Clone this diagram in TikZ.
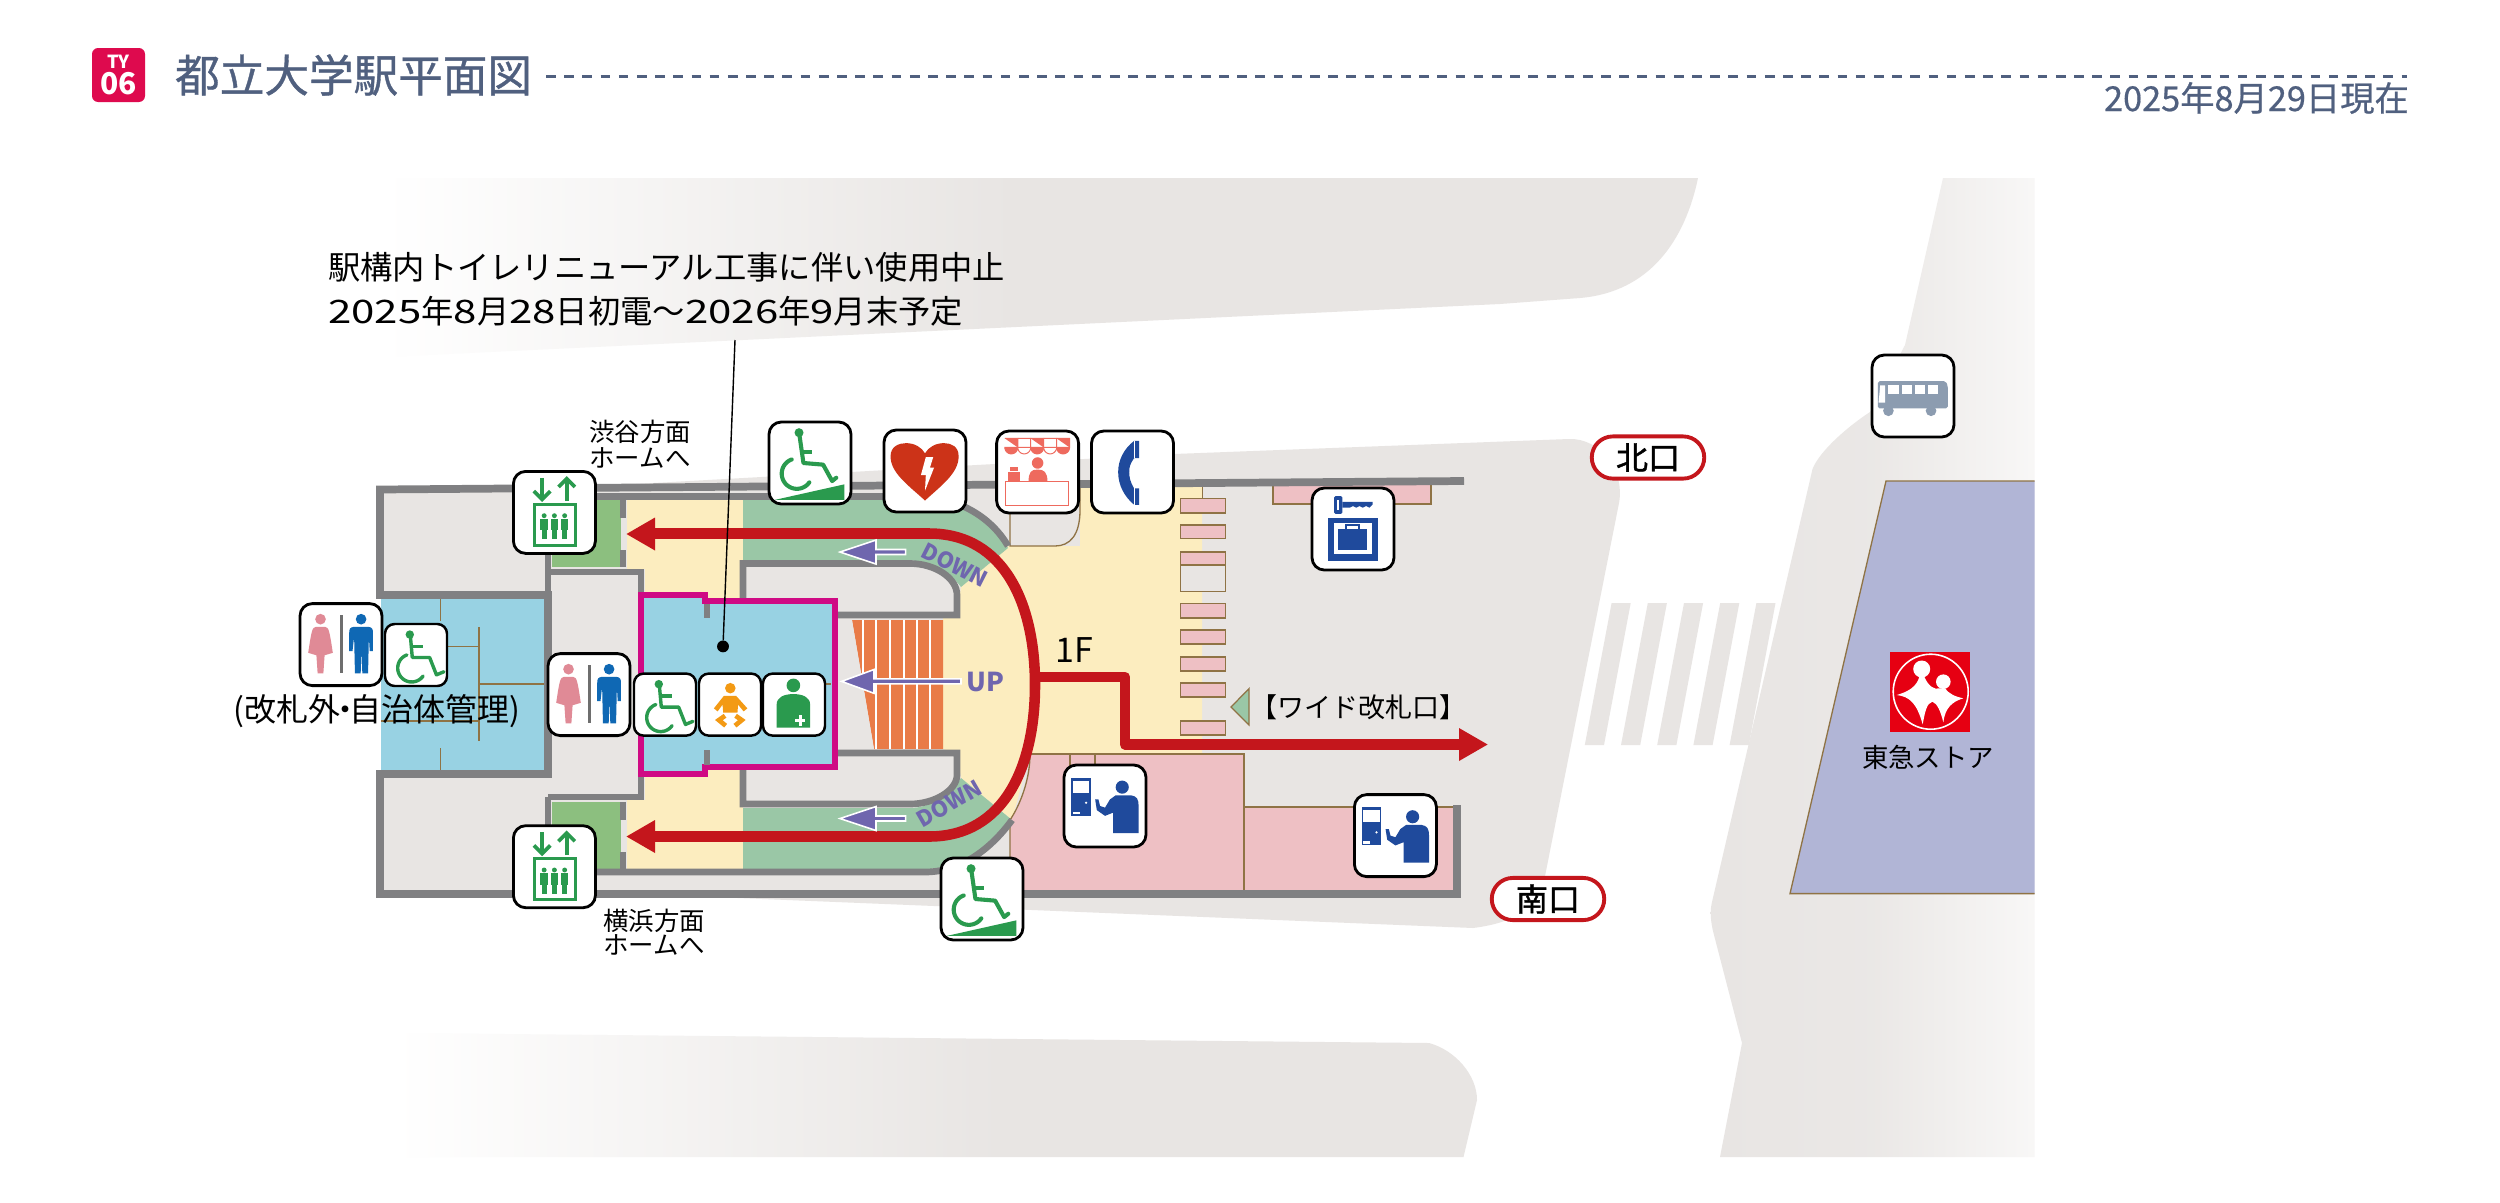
\documentclass[tikz,border=0pt]{standalone}
\usepackage{fontspec}
\usepackage{graphicx}
\setmainfont{Noto Sans CJK JP}
\newcommand\pxf[1]{\fontsize{\fpeval{#1*1.138}pt}{\fpeval{#1*1.3}pt}\selectfont}
\newcommand\dg[1]{\scalebox{1.3}[1.0]{#1}}
\definecolor{ground}{HTML}{E8E5E3}
\definecolor{wallc}{HTML}{808082}
\definecolor{creamc}{HTML}{FCEDBF}
\definecolor{bandc}{HTML}{9AC7A6}
\definecolor{evc}{HTML}{8CBF7F}
\definecolor{bluec}{HTML}{98D2E3}
\definecolor{magc}{HTML}{CF0A84}
\definecolor{redc}{HTML}{C4161C}
\definecolor{pinkc}{HTML}{EEC0C4}
\definecolor{brownc}{HTML}{8F7345}
\definecolor{orangec}{HTML}{E97B47}
\definecolor{purplec}{HTML}{6F66AE}
\definecolor{lavc}{HTML}{B1B5D6}
\definecolor{titlec}{HTML}{50607F}
\definecolor{icong}{HTML}{2A9A4E}
\definecolor{iconb}{HTML}{1F4A9C}
\definecolor{manb}{HTML}{0F68B4}
\definecolor{womanp}{HTML}{E08A96}
\definecolor{barg}{HTML}{6E6E6E}
\definecolor{aedr}{HTML}{CC3318}
\definecolor{shopr}{HTML}{EE6A5E}
\definecolor{babyo}{HTML}{F39A14}
\definecolor{busg}{HTML}{8C9CB0}
\definecolor{logor}{HTML}{E60012}
\pgfdeclarehorizontalshading{fadetop}{100bp}{color(0bp)=(white);color(25bp)=(white);color(49bp)=(ground);color(100bp)=(ground)}
\pgfdeclarehorizontalshading{fadebot}{100bp}{color(0bp)=(white);color(25bp)=(white);color(53bp)=(ground);color(100bp)=(ground)}
\pgfdeclarehorizontalshading{faderight}{100bp}{color(0bp)=(ground);color(25bp)=(ground);color(50bp)=(ground!90!white);color(75bp)=(ground!30!white);color(100bp)=(ground!30!white)}
\tikzset{
  wall/.style={draw=wallc,line width=8.8pt,line join=miter},
  wallthin/.style={draw=wallc,line width=7.6pt},
  thinb/.style={draw=brownc,line width=1.5pt},
  gate/.style={fill=pinkc,draw=brownc,line width=1.6pt},
  route/.style={draw=redc,line width=12pt},
  iconframe/.style={draw=black,fill=white,line width=3.2pt,rounded corners=14pt},
  iconframesmall/.style={draw=black,fill=white,line width=2.8pt,rounded corners=11pt},
  lbl/.style={inner sep=0pt,text=black},
  pill/.style={draw=redc,fill=white,line width=4.4pt,rounded corners=24pt,minimum height=48pt,minimum width=128pt,inner sep=0pt,text=black},
  parrow/.style={fill=purplec,draw=white,line width=1.8pt,line join=miter},
  updown/.style={inner sep=0pt,text=purplec,font=\pxf{22}\bfseries}
}
\newcommand\icon[6][iconframe]{%
 \begin{scope}[shift={(#3,#4)},x={#5*0.04cm},y={-#5*0.04cm}]
 \pgfmathsetmacro\iconu{#5*1.138}
 \draw[#1] (0,0) rectangle (1,1);
 \coordinate (#2) at (.5,.5);
 #6
 \end{scope}}
\newcommand\chair{%
 \fill[icong] (.40,.17) circle (.068);
 \draw[icong,line width=.055*\iconu pt,line cap=round,line join=round] (.41,.2)--(.44,.54)--(.72,.54)--(.83,.82)--(.95,.77);
 \draw[icong,line width=.055*\iconu pt] (.43,.36)--(.62,.36);
 \draw[icong,line width=.055*\iconu pt,line cap=round] plot[domain=35:250,samples=30,smooth] ({.43+.225*cos(\x)},{.71+.225*sin(\x)});}
\newcommand\ramp{%
 \fill[icong] (.366,.13) circle (.055);
 \draw[icong,line width=.05*\iconu pt,line cap=round,line join=round] (.37,.15)--(.42,.50)--(.66,.52)--(.77,.72)--(.82,.68);
 \draw[icong,line width=.05*\iconu pt] (.39,.37)--(.53,.37);
 \draw[icong,line width=.05*\iconu pt,line cap=round] plot[domain=35:250,samples=30,smooth] ({.34+.185*cos(\x)},{.63+.185*sin(\x)});
 \fill[icong] (.07,.95)--(.92,.76)--(.92,.95)--cycle;}
\newcommand\wc{%
 \fill[womanp] (.25,.19) circle (.065);
 \fill[womanp] (.19,.285)--(.31,.285) .. controls (.35,.29) and (.36,.33) .. (.40,.60)--(.30,.63)--(.285,.85)--(.215,.85)--(.2,.63)--(.10,.60) .. controls (.14,.33) and (.15,.29) .. (.19,.285)--cycle;
 \fill[barg] (.485,.14) rectangle (.525,.85);
 \fill[manb] (.745,.19) circle (.065);
 \fill[manb] (.65,.285)--(.84,.285) .. controls (.88,.29) and (.89,.31) .. (.89,.36)--(.89,.58)--(.85,.58)--(.84,.40)--(.83,.85)--(.76,.85)--(.75,.56)--(.74,.85)--(.67,.85)--(.66,.40)--(.64,.58)--(.60,.58)--(.60,.36) .. controls (.60,.31) and (.61,.29) .. (.65,.285)--cycle;}
\newcommand\evperson[1]{%
 \fill[icong] (#1,.54) circle (.03);
 \fill[icong] (#1-.045,.58) rectangle (#1+.045,.72);
 \fill[icong] (#1-.03,.72) rectangle (#1+.03,.83);}
\newcommand\elev{%
 \draw[icong,line width=.045*\iconu pt] (.35,.08)--(.35,.34);
 \draw[icong,line width=.045*\iconu pt] (.25,.24)--(.35,.34)--(.45,.24);
 \draw[icong,line width=.045*\iconu pt] (.65,.36)--(.65,.09);
 \draw[icong,line width=.045*\iconu pt] (.55,.19)--(.65,.09)--(.75,.19);
 \draw[icong,line width=.035*\iconu pt] (.255,.40) rectangle (.76,.90);
 \evperson{.375}\evperson{.5}\evperson{.625}}
\newcommand\aed{%
 \fill[aedr] (.5,.86) .. controls (.28,.66) and (.08,.52) .. (.08,.32) .. controls (.08,.2) and (.18,.16) .. (.27,.16) .. controls (.37,.16) and (.46,.21) .. (.5,.285) .. controls (.54,.21) and (.63,.16) .. (.73,.16) .. controls (.82,.16) and (.91,.2) .. (.91,.32) .. controls (.91,.52) and (.72,.66) .. (.5,.86)--cycle;
 \fill[white] (.51,.33)--(.60,.33)--(.56,.46)--(.61,.46)--(.50,.74)--(.51,.55)--(.45,.55)--cycle;}
\newcommand\awn[2]{%
 \filldraw[fill=#2,draw=shopr,line width=.012*\iconu pt] (#1,.09)--(#1+.158,.09)--(#1+.158,.2) plot[domain=0:180,samples=14] ({#1+.079+.079*cos(\x)},{.2+.079*sin(\x)})--cycle;}
\newcommand\shop{%
 \awn{.1}{shopr}\awn{.258}{white}\awn{.416}{shopr}\awn{.574}{white}\awn{.732}{shopr}
 \fill[shopr] (.5,.39) circle (.07);
 \fill[shopr] (.39,.62) .. controls (.39,.5) and (.42,.47) .. (.5,.47) .. controls (.58,.47) and (.62,.5) .. (.62,.62)--cycle;
 \fill[shopr] (.135,.5) rectangle (.28,.62);
 \fill[shopr] (.16,.44) rectangle (.26,.49);
 \draw[shopr,line width=.012*\iconu pt] (.105,.62) rectangle (.88,.91);}
\newcommand\phoneg{%
 \fill[iconb] (.58,.12)--(.52,.12) .. controls (.39,.22) and (.325,.36) .. (.325,.5) .. controls (.325,.66) and (.40,.80) .. (.52,.90)--(.58,.90)--(.58,.70)--(.52,.70) .. controls (.47,.62) and (.46,.56) .. (.46,.5) .. controls (.46,.44) and (.47,.40) .. (.52,.33)--(.58,.33)--cycle;
 \draw[white,line width=.012*\iconu pt] (.52,.12)--(.52,.33) (.52,.70)--(.52,.90);}
\newcommand\ticket{%
 \fill[iconb] (.09,.155) rectangle (.33,.62);
 \fill[white] (.105,.19) rectangle (.31,.34);
 \fill[white] (.105,.57) rectangle (.19,.60);
 \fill[white] (.27,.46) circle (.015);
 \fill[iconb] (.71,.27) circle (.08);
 \fill[iconb] (.63,.37)--(.82,.37) .. controls (.89,.38) and (.91,.42) .. (.91,.50)--(.91,.83)--(.60,.83)--(.60,.58)--(.50,.62)--(.40,.55)--(.38,.42)--(.42,.42)--(.44,.50)--(.50,.52)--(.56,.42)--cycle;}
\newcommand\locker{%
 \fill[iconb,rounded corners=1.5pt] (.27,.10) rectangle (.37,.315);
 \fill[white] (.30,.15) rectangle (.33,.27);
 \fill[iconb] (.37,.17)--(.74,.17)--(.74,.20)--(.70,.24)--(.66,.22)--(.62,.24)--(.58,.22)--(.54,.24)--(.50,.22)--(.46,.24)--(.37,.24)--cycle;
 \fill[iconb] (.2,.37) rectangle (.8,.89);
 \fill[white] (.265,.43) rectangle (.735,.80);
 \fill[iconb] (.32,.50) rectangle (.67,.75);
 \draw[iconb,line width=.025*\iconu pt] (.42,.50)--(.42,.45)--(.57,.45)--(.57,.50);}
\newcommand\baby{%
 \fill[babyo] (.505,.235) circle (.085);
 \fill[babyo] (.24,.56)--(.40,.36)--(.60,.36)--(.78,.56)--(.72,.61)--(.63,.50)--(.62,.63)--(.39,.63)--(.38,.50)--(.30,.61)--cycle;
 \draw[babyo,line width=.075*\iconu pt] (.42,.68)--(.32,.75)--(.43,.84);
 \draw[babyo,line width=.075*\iconu pt] (.59,.68)--(.69,.75)--(.58,.84);}
\newcommand\nurse{%
 \fill[icong] (.49,.19) circle (.11);
 \fill[icong] (.22,.87)--(.22,.50) .. controls (.22,.38) and (.34,.33) .. (.49,.33) .. controls (.64,.33) and (.76,.38) .. (.76,.50)--(.76,.87)--cycle;
 \fill[white] (.575,.66) rectangle (.625,.84);
 \fill[white] (.515,.725) rectangle (.685,.775);}
\newcommand\busg{%
 \fill[busg,rounded corners=2pt] (.07,.32)--(.90,.32)--(.925,.38)--(.925,.65)--(.07,.65)--cycle;
 \foreach \a in {.20,.36,.52,.68}{\fill[white] (\a,.37) rectangle (\a+.13,.47);}
 \fill[white] (.10,.37)--(.16,.37)--(.16,.58)--(.08,.58)--cycle;
 \fill[busg] (.20,.68) circle (.065);
 \fill[busg] (.72,.68) circle (.065);}
\begin{document}
\begin{tikzpicture}[x=0.04cm,y=-0.04cm]
\useasboundingbox (0,0) rectangle (2500,1202);
\fill[white] (0,0) rectangle (2500,1202);
% header
\fill[fill={rgb,255:red,222;green,10;blue,78},rounded corners=7pt] (92,48) rectangle (145,102);
\node[lbl,text=white,font=\pxf{18}\bfseries] (badgetop) at (118.5,62) {TY};
\node[lbl,text=white,font=\pxf{30}\bfseries] (badgenum) at (118.5,84) {06};
\node[lbl,text=titlec,font=\pxf{44.6}\addfontfeature{FakeBold=0.8},anchor=west] (title) at (175,75) {都立大学駅平面図};
\coordinate (dashL) at (546,76.5);
\coordinate (dashR) at (2407,76.5);
\draw[titlec,line width=2.8pt,dash pattern=on 11pt off 9.7pt] (dashL)--(dashR);
\node[lbl,text=titlec,font=\pxf{34.3}\addfontfeature{FakeBold=0.6},anchor=east] (date) at (2409,98) {2025年8月29日現在};
% ground
\shade[shading=fadetop] (383,178)--(1698,178) .. controls (1685,240) and (1650,292) .. (1580,298)--(1500,304)--(385,357)--cycle;
\shade[shading=fadebot] (404,1033)--(1429,1043) .. controls (1455,1050) and (1477,1075) .. (1477,1100)--(1463.5,1157)--(395,1157)--cycle;
\shade[shading=faderight] (1943,178)--(2034.5,178)--(2034.5,1157)--(1720,1157)--(1742,1043)--(1714,935) .. controls (1710,920) and (1710,910) .. (1712,902)--(1812.5,469) .. controls (1820,450) and (1850,425) .. (1870,412)--(1905,345)--cycle;
\fill[ground] (600,486)--(1174,454)--(1569,439) .. controls (1600,438) and (1625,470) .. (1619,503)--(1546,871) .. controls (1540,905) and (1520,922) .. (1473,928)--(640,894)--cycle;
\fill[ground] (380,489)--(700,484)--(700,894)--(380,894)--(380,774)--(548,774)--(548,595)--(380,595)--cycle;
% crosswalk
\foreach \i in {0,...,4}{\fill[ground] ({1611.6+36.2*\i},603)--({1630.7+36.2*\i},603)--({1604+36.2*\i},745)--({1584.8+36.2*\i},745)--cycle;}
% store
\fill[lavc] (2034.5,481)--(1886,481)--(1790,893.6)--(2034.5,893.6)--cycle;
\draw[thinb] (2034.5,481)--(1886,481)--(1790,893.6)--(2034.5,893.6);
\fill[logor] (1890,652) rectangle (1970,732);
\draw[white,line width=1.8pt] (1930.7,691.7) circle (37.5);
\fill[white] (1921.7,669) circle (8.5);
\fill[white] (1943.3,681.7) circle (7.3);
\begin{scope}[shift={(1880,645)},x=0.04cm/3,y=-0.04cm/3]
\fill[white] (118,95) .. controls (110,125) and (85,140) .. (50,150) .. controls (90,155) and (110,175) .. (128,238) .. controls (135,200) and (140,175) .. (157,170) .. controls (172,175) and (182,200) .. (190,232) .. controls (195,190) and (215,170) .. (250,160) .. controls (225,155) and (205,145) .. (195,130)--(178,130) .. controls (165,135) and (145,125) .. (133,95)--cycle;
\end{scope}
\node[lbl,font=\pxf{26.4}] (store) at (1928,757) {東急ストア};
% floors
\fill[ground] (380,595) rectangle (548,490);
\fill[creamc] (627,500) rectangle (743,569);
\fill[creamc] (645,500) rectangle (743,869);
\fill[creamc] (627,800) rectangle (743,869);
\fill[creamc] (1008,546)--(961,587)--(957,615)--(943,615)--(943,749)--(957,753)--(961,778)--(1012,820)--(1030,753.5)--(1202,753.5)--(1202,486)--(1080,486)--(1080,546)--cycle;
\fill[ground] (743,566) rectangle (957,615);
\fill[ground] (743,753) rectangle (957,804);
% green bands
\fill[bandc] (743,500)--(917,500) .. controls (955,500) and (990,518) .. (1008,548)--(961,587) .. controls (950,572) and (930,563) .. (910,560)--(743,560)--cycle;
\fill[bandc] (743,869)--(925,869) .. controls (960,869) and (990,848) .. (1012,820)--(961,778) .. controls (950,795) and (930,808) .. (910,808)--(743,808)--cycle;
\fill[evc] (552,500) rectangle (621,567);
\fill[evc] (552,802) rectangle (621,869);
% stairs
\fill[ground] (838,615) rectangle (943,753);
\fill[orangec] (852,620)--(943,620)--(943,749)--(874,749)--cycle;
\foreach \a in {863,876,890,904,917,930}{\fill[white] (\a-.9,620) rectangle (\a+.9,749);}
\fill[ground] (852,620)--(874,749)--(852,749)--cycle;
% left blue room
\fill[bluec] (381,598) rectangle (546,771);
\draw[thinb] (440.6,598)--(440.6,621) (440.6,748)--(440.6,771);
\draw[thinb] (479,627)--(479,741);
\draw[thinb] (447,646.4)--(479,646.4);
\draw[thinb] (479,684)--(544,684);
\draw[thinb] (381,721)--(479,721);
% pink rooms
\fill[pinkc] (1030,754)--(1244,754)--(1244,807)--(1457,807)--(1457,891)--(1010,891)--(1010,820) .. controls (1020,805) and (1030,780) .. (1030,754)--cycle;
\draw[thinb] (1030,754)--(1244,754)--(1244,891);
\draw[thinb] (1244,807)--(1457,807);
\draw[thinb] (1010,891)--(1010,820) .. controls (1020,805) and (1030,780) .. (1030,754);
\fill[gate] (1070,754) rectangle (1095,768);
% kiosk
\fill[ground] (1010,500) rectangle (1080,546);
\draw[thinb] (1010,510)--(1010,546)--(1055,546) .. controls (1070,546) and (1080,535) .. (1080,510)--(1080,486);
% gates
\draw[thinb] (1202.5,485)--(1202.5,498);
\foreach \ya/\yb in {498.6/513,525/538.6,552/565,603.6/618,630/644,657/671,683/697,721/735}{\fill[gate] (1180.4,\ya) rectangle (1225.4,\yb);}
\fill[ground,draw=brownc,line width=1.6pt] (1180.4,565) rectangle (1225.4,591.4);
\fill[gate] (1273,484) rectangle (1431,504);
% walls
\draw[wall] (1464,481)--(380,489.5)--(380,595)--(548,595)--(548,774)--(380,774)--(380,894)--(1457,894)--(1457,805);
\draw[wallthin] (548,596)--(548,572)--(641,572)--(641,596);
\draw[wallthin] (548,497)--(548,572);
\draw[wallthin] (548,797)--(641,797)--(641,772);
\draw[wallthin] (548,872)--(548,797);
\draw[wallthin] (545,496.5)--(917,496.5) .. controls (955,496.5) and (990,515) .. (1008,546);
\draw[wallthin] (545,872)--(925,872) .. controls (960,872) and (990,850) .. (1012,820);
\draw[wallthin] (743,600)--(743,563.5)--(910,563.5) .. controls (935,563.5) and (957,578) .. (957,595)--(957,615)--(838,615);
\draw[wallthin] (743,770)--(743,804)--(910,804) .. controls (935,804) and (957,790) .. (957,775)--(957,753)--(838,753);
\draw[wallthin] (623,500)--(623,518) (623,550)--(623,567) (623,802)--(623,820) (623,852)--(623,869);
% central toilet
\draw[draw=magc,fill=bluec,line width=7.5pt,line join=miter] (641,595)--(705,595)--(705,601)--(835,601)--(835,767)--(705,767)--(705,774)--(641,774)--cycle;
\draw[wallthin] (707,604)--(707,618) (707,750)--(707,765);
\draw[thinb] (825,684)--(831,684);
% routes
\draw[route] (650,533.5)--(929,533.5) .. controls (1005,533.5) and (1035,605) .. (1035,685) .. controls (1035,765) and (1005,836.5) .. (929,836.5)--(650,836.5);
\draw[route,line join=round] (1035,677)--(1125,677)--(1125,744.5)--(1465,744.5);
\fill[redc] (626.5,534)--(655,517.5)--(655,550.5)--cycle;
\fill[redc] (626.5,836.5)--(655,820)--(655,853)--cycle;
\fill[redc] (1487.6,744.5)--(1459,728)--(1459,761)--cycle;
% purple arrows
\draw[parrow] (961,678.9)--(874,678.9)--(874,669.5)--(841.6,681.4)--(874,693.3)--(874,683.9)--(961,683.9)--cycle;
\draw[parrow] (905.6,549.5)--(876,549.5)--(876,540)--(840,552)--(876,564)--(876,554.5)--(905.6,554.5)--cycle;
\draw[parrow] (905.6,816)--(876,816)--(876,806.5)--(840,818.5)--(876,830.5)--(876,821)--(905.6,821)--cycle;
\node[updown,font=\pxf{26}\bfseries] (uplabel) at (985,682) {UP};
\node[updown,rotate=-27] (downtop) at (955,565) {DOWN};
\node[updown,rotate=30] (downbot) at (949,803.6) {DOWN};
% triangle
\draw[fill=bandc,draw=brownc,line width=1.4pt] (1249,688.6)--(1231,707)--(1249,725)--cycle;
% icons
\icon{evtop}{513.4}{471.4}{82}{\elev}
\icon{evbot}{513.4}{825.7}{82}{\elev}
\icon{wcleft}{300}{603.6}{82}{\wc}
\icon[iconframesmall]{accleft}{385}{624}{62}{\chair}
\icon{wcmid}{548}{653.6}{82}{\wc}
\icon[iconframesmall]{accmid}{634}{673.6}{62}{\chair}
\icon[iconframesmall]{babymid}{699}{673.6}{62}{\baby}
\icon[iconframesmall]{nursemid}{763}{673.6}{62}{\nurse}
\icon{ramptop}{769}{422}{82}{\ramp}
\icon{aedbox}{884}{430}{82}{\aed}
\icon{shopbox}{996.6}{431}{82}{\shop}
\icon{phonebox}{1091.5}{431}{82}{\phoneg}
\icon{ticketa}{1064}{765}{82}{\ticket}
\icon{rampbot}{941}{858}{82}{\ramp}
\icon{ticketb}{1354.4}{794.6}{82}{\ticket}
\icon{lockerbox}{1312}{488}{82}{\locker}
\icon{busbox}{1872}{355}{82}{\busg}
% texts
\node[lbl,font=\pxf{32.3},anchor=west] (notea) at (328,267) {駅構内トイレリニューアル工事に伴い使用中止};
\node[lbl,font=\pxf{32.3},anchor=west] (noteb) at (328,311) {\dg{2025}年\dg{8}月\dg{28}日初電～\dg{2026}年\dg{9}月末予定};
\coordinate (leadtop) at (735,340);
\node[circle,fill=black,inner sep=0pt,minimum size=13.5pt] (leaddot) at (723,646.4) {};
\draw[black,line width=1.6pt] (leadtop)--(leaddot);
\node[lbl,font=\pxf{25.4},align=center] (shibuyaA) at (640,432) {渋谷方面};
\node[lbl,font=\pxf{25.4},align=center] (shibuyaB) at (640,458) {ホームへ};
\node[lbl,font=\pxf{25.4},align=center] (yokoA) at (654,921) {横浜方面};
\node[lbl,font=\pxf{25.4},align=center] (yokoB) at (654,945) {ホームへ};
\node[lbl,font=\pxf{32}] (outside) at (377,711) {(改札外\kern-.36em・\kern-.36em 自治体管理)};
\node[lbl,font=\pxf{34}] (oneF) at (1074,650) {1F};
\node[lbl,font=\pxf{27}] (wide) at (1358,707) {【ワイド改札口】};
\node[pill,font=\pxf{32}\addfontfeature{FakeBold=1.2}] (north) at (1648,457.5) {北口};
\node[pill,font=\pxf{32}\addfontfeature{FakeBold=1.2}] (south) at (1548,899) {南口};
\end{tikzpicture}
\end{document}
